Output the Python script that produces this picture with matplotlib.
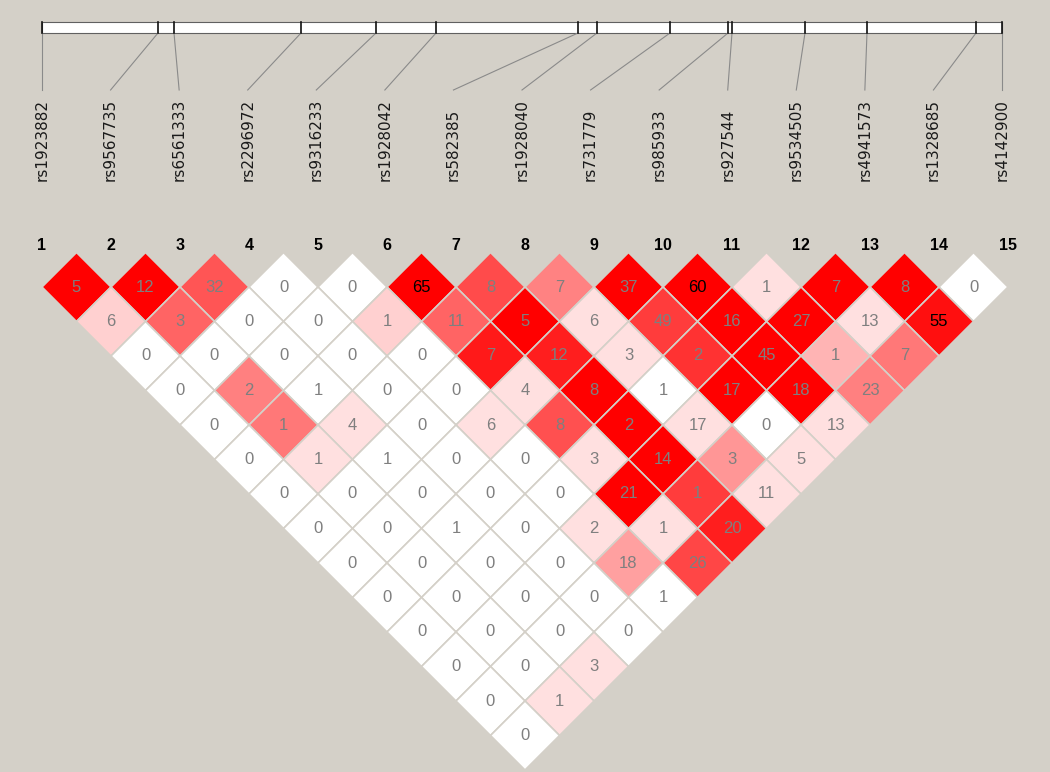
import matplotlib
matplotlib.use("Agg")
import matplotlib.pyplot as plt
from matplotlib.patches import Polygon, Rectangle

# ---------------- data ----------------
snp_names = ["rs1923882", "rs9567735", "rs6561333", "rs2296972", "rs9316233",
             "rs1928042", "rs582385", "rs1928040", "rs731779", "rs985933",
             "rs927544", "rs9534505", "rs4941573", "rs1328685", "rs4142900"]
marker_numbers = list(range(1, 16))
# relative physical positions (kb) along the region
snp_pos_kb = [0.0, 11.6, 13.2, 25.9, 33.4, 39.4, 53.6, 55.5, 62.8,
              68.6, 69.0, 76.3, 82.5, 93.4, 96.0]

# LD values by marker distance (row d holds pairs (i, i+d))
ld_d1 = [5, 12, 32, 0, 0, 65, 8, 7, 37, 60, 1, 7, 8, 0]
ld_d2 = [6, 3, 0, 0, 1, 11, 5, 6, 49, 16, 27, 13, 55]
ld_d3 = [0, 0, 0, 0, 0, 7, 12, 3, 2, 45, 1, 7]
ld_d4 = [0, 2, 1, 0, 0, 4, 8, 1, 17, 18, 23]
ld_d5 = [0, 1, 4, 0, 6, 8, 2, 17, 0, 13]
ld_d6 = [0, 1, 1, 0, 0, 3, 14, 3, 5]
ld_d7 = [0, 0, 0, 0, 0, 21, 1, 11]
ld_d8 = [0, 0, 1, 0, 2, 1, 20]
ld_d9 = [0, 0, 0, 0, 18, 26]
ld_d10 = [0, 0, 0, 0, 1]
ld_d11 = [0, 0, 0, 0]
ld_d12 = [0, 0, 3]
ld_d13 = [0, 1]
ld_d14 = [0]
ld_rows = [ld_d1, ld_d2, ld_d3, ld_d4, ld_d5, ld_d6, ld_d7, ld_d8, ld_d9,
           ld_d10, ld_d11, ld_d12, ld_d13, ld_d14]

# cell shading (green/blue channel: 0 = full red, 255 = white)
shade_d1 = [0, 0, 85, 255, 255, 0, 75, 130, 0, 0, 224, 0, 0, 255]
shade_d2 = [208, 100, 255, 255, 208, 100, 0, 224, 60, 0, 0, 224, 15]
shade_d3 = [255, 255, 255, 255, 255, 25, 30, 224, 50, 0, 180, 120]
shade_d4 = [255, 128, 255, 255, 255, 224, 0, 255, 0, 0, 128]
shade_d5 = [255, 120, 224, 255, 224, 80, 0, 224, 255, 224]
shade_d6 = [255, 224, 255, 255, 255, 224, 0, 150, 224]
shade_d7 = [255, 255, 255, 255, 255, 0, 60, 224]
shade_d8 = [255, 255, 255, 255, 224, 224, 30]
shade_d9 = [255, 255, 255, 255, 160, 70]
shade_d10 = [255, 255, 255, 255, 255]
shade_d11 = [255, 255, 255, 255]
shade_d12 = [255, 255, 224]
shade_d13 = [255, 224]
shade_d14 = [255]
shade_rows = [shade_d1, shade_d2, shade_d3, shade_d4, shade_d5, shade_d6,
              shade_d7, shade_d8, shade_d9, shade_d10, shade_d11, shade_d12,
              shade_d13, shade_d14]

black_text_pairs = [(6, 7), (10, 11), (13, 15)]

# ---------------- layout ----------------
W, H = 1050, 772
BG = "#d4d0c8"
x_first, x_last = 42.0, 1008.0
n = len(snp_names)
step = (x_last - x_first) / (n - 1)
half = step / 2.0
y_top = 252.5  # top vertex of first-row diamonds

def mx(i):
    return x_first + (i - 1) * step

bar_left, bar_right = 42.0, 1002.0
bar_top, bar_bot = 22.0, 33.0
line_end_y = 90.0
label_base_y = 181.0
num_y = 245.0

fig = plt.figure(figsize=(W / 100, H / 100), dpi=100, facecolor=BG)
ax = fig.add_axes([0, 0, 1, 1])
ax.set_xlim(0, W)
ax.set_ylim(H, 0)
ax.axis("off")
ax.set_facecolor(BG)

# physical map bar
span = snp_pos_kb[-1] - snp_pos_kb[0]
ax.add_patch(Rectangle((bar_left, bar_top), bar_right - bar_left, bar_bot - bar_top,
                       facecolor="white", edgecolor="#606060", linewidth=0.8, zorder=2))
label_step = (bar_right - bar_left) / (n - 1)
for k, (name, pos) in enumerate(zip(snp_names, snp_pos_kb)):
    px = bar_left + (pos - snp_pos_kb[0]) / span * (bar_right - bar_left)
    ax.plot([px, px], [bar_top, bar_bot], color="#111111", lw=1.2, zorder=3)
    lx = bar_left + k * label_step
    ax.plot([px, lx], [bar_bot, line_end_y], color="#8a8a8a", lw=0.8, zorder=2)
    ax.text(lx, label_base_y, name, rotation=90, ha="center", va="bottom",
            fontsize=11, family="DejaVu Sans", color="#1a1a1a")

# marker numbers
for i in marker_numbers:
    ax.text(mx(i), num_y, str(i), ha="center", va="center", fontsize=11.5,
            fontweight="bold", family="Liberation Sans", color="black")

# LD diamonds
for d, (vals, shades) in enumerate(zip(ld_rows, shade_rows), start=1):
    for k, (v, g) in enumerate(zip(vals, shades)):
        i = k + 1
        j = i + d
        cx = (mx(i) + mx(j)) / 2.0
        cy = y_top + d * half
        verts = [(cx, cy - half), (cx + half, cy), (cx, cy + half), (cx - half, cy)]
        col = (1.0, g / 255.0, g / 255.0)
        ax.add_patch(Polygon(verts, closed=True, facecolor=col, edgecolor=BG,
                             linewidth=1.2, zorder=4))
        tc = "black" if (i, j) in black_text_pairs else "#7f7f7f"
        ax.text(cx, cy, str(v), ha="center", va="center", fontsize=12,
                family="Liberation Sans", color=tc, zorder=5)

fig.savefig("out.png", dpi=100, facecolor=BG)
